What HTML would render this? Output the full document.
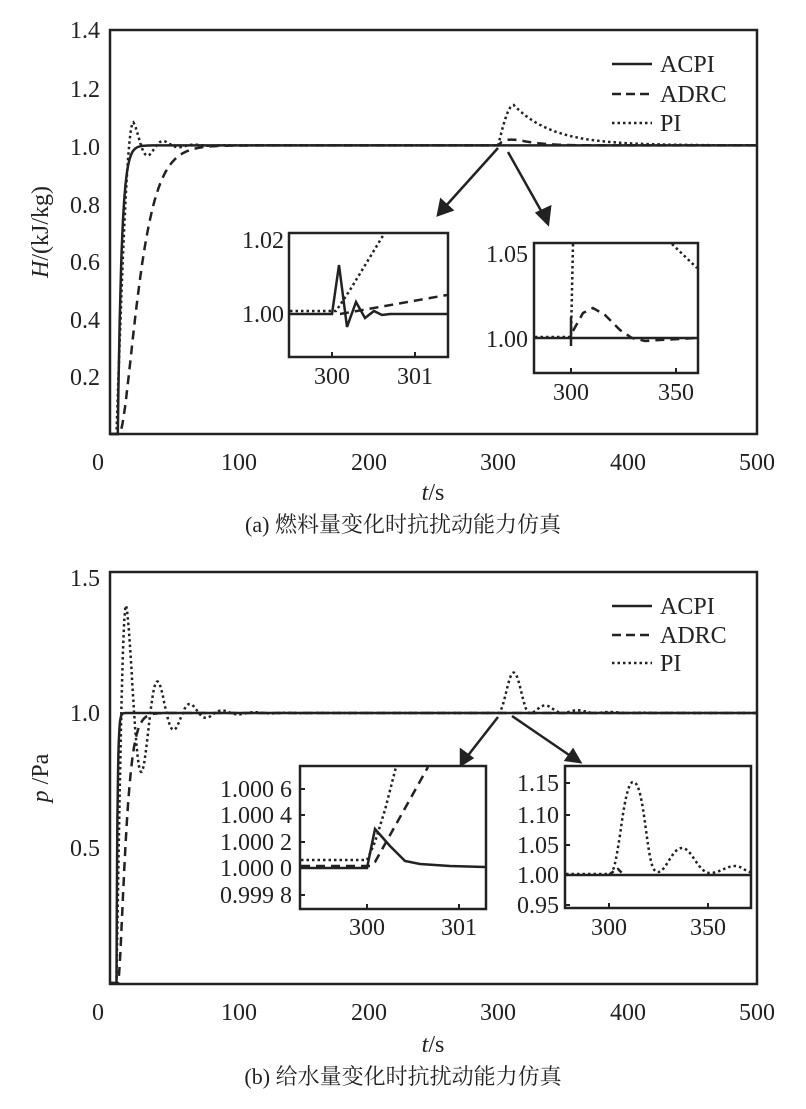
<!DOCTYPE html>
<html><head><meta charset="utf-8"><style>
body{margin:0;background:#fff}
svg text{font-family:"Liberation Serif","Noto Serif CJK SC",serif;fill:#222}
</style></head><body>
<svg id="s" width="806" height="1104" viewBox="0 0 806 1104" xmlns="http://www.w3.org/2000/svg">
<g fill="none" stroke="#222" stroke-width="2.5">
<rect x="110" y="30" width="647" height="404"/>
<rect x="110" y="572" width="647" height="412"/>
</g>
<g font-size="24" text-anchor="end">
<text x="100" y="38">1.4</text><text x="100" y="97">1.2</text><text x="100" y="155">1.0</text><text x="100" y="213">0.8</text><text x="100" y="270">0.6</text><text x="100" y="328">0.4</text><text x="100" y="385">0.2</text>
<text x="100" y="586">1.5</text><text x="100" y="721">1.0</text><text x="100" y="856">0.5</text>
</g>
<g font-size="24" text-anchor="middle">
<text x="98" y="470">0</text><text x="239" y="470">100</text><text x="369" y="470">200</text><text x="498" y="470">300</text><text x="628" y="470">400</text><text x="757" y="470">500</text>
<text x="98" y="1020">0</text><text x="239" y="1020">100</text><text x="369" y="1020">200</text><text x="498" y="1020">300</text><text x="628" y="1020">400</text><text x="757" y="1020">500</text>
<text x="433" y="500"><tspan font-style="italic">t</tspan>/s</text>
<text x="433" y="1052"><tspan font-style="italic">t</tspan>/s</text>
<text x="403" y="532" font-size="22">(a) 燃料量变化时抗扰动能力仿真</text>
<text x="403" y="1084" font-size="22">(b) 给水量变化时抗扰动能力仿真</text>
<text transform="translate(48,232) rotate(-90)"><tspan font-style="italic">H</tspan>/(kJ/kg)</text>
<text transform="translate(48,778) rotate(-90)"><tspan font-style="italic">p</tspan> /Pa</text>
</g>
<g font-size="24">
<text x="660" y="72">ACPI</text><text x="660" y="102">ADRC</text><text x="660" y="131">PI</text>
<text x="660" y="614">ACPI</text><text x="660" y="643">ADRC</text><text x="660" y="671">PI</text>
</g>
<g stroke="#222" stroke-width="2.5">
<line x1="612" y1="64" x2="652" y2="64"/><line x1="612" y1="94" x2="652" y2="94" stroke-dasharray="9,5"/><line x1="612" y1="123" x2="652" y2="123" stroke-dasharray="2.5,3"/>
<line x1="612" y1="606" x2="652" y2="606"/><line x1="612" y1="635" x2="652" y2="635" stroke-dasharray="9,5"/><line x1="612" y1="663" x2="652" y2="663" stroke-dasharray="2.5,3"/>
</g>
<g id="curves" fill="none" stroke="#222" stroke-width="2.5"></g>
<g stroke="#222" stroke-width="2.5" fill="#222">
<line x1="498" y1="148" x2="444" y2="208"/><polygon points="438,215 441,200 452,210"/>
<line x1="508" y1="152" x2="544" y2="216"/><polygon points="548,224 537,213 550,207"/>
<line x1="498" y1="717" x2="466" y2="758"/><polygon points="461,765 461,750 472,758"/>
<line x1="512" y1="716" x2="572" y2="757"/><polygon points="580,762 566,760 573,750"/>
</g>
<g fill="#fff" stroke="#222" stroke-width="2.5">
<rect x="289" y="233" width="159" height="124"/>
<rect x="534" y="243" width="164" height="130"/>
<rect x="300" y="766" width="186" height="143"/>
<rect x="565" y="766" width="186" height="142"/>
</g>
<g font-size="24" text-anchor="end">
<text x="284" y="248">1.02</text><text x="284" y="322">1.00</text>
<text x="528" y="262">1.05</text><text x="528" y="347">1.00</text>
<text x="292" y="797">1.000 6</text><text x="292" y="823">1.000 4</text><text x="292" y="850">1.000 2</text><text x="292" y="876">1.000 0</text><text x="292" y="903">0.999 8</text>
<text x="559" y="791">1.15</text><text x="559" y="823">1.10</text><text x="559" y="853">1.05</text><text x="559" y="883">1.00</text><text x="559" y="913">0.95</text>
</g>
<g font-size="24" text-anchor="middle">
<text x="332" y="384">300</text><text x="415" y="384">301</text>
<text x="571" y="400">300</text><text x="676" y="400">350</text>
<text x="367" y="935">300</text><text x="459" y="935">301</text>
<text x="609" y="935">300</text><text x="708" y="935">350</text>
</g>
<g fill="none" stroke="#222" stroke-width="2">
<line x1="332" y1="357" x2="332" y2="352"/><line x1="415" y1="357" x2="415" y2="352"/>
<line x1="571" y1="373" x2="571" y2="368"/><line x1="676" y1="373" x2="676" y2="368"/>
<line x1="367" y1="909" x2="367" y2="904"/><line x1="459" y1="909" x2="459" y2="904"/>
<line x1="609" y1="908" x2="609" y2="903"/><line x1="708" y1="908" x2="708" y2="903"/>
<line x1="300" y1="789" x2="305" y2="789"/><line x1="300" y1="815" x2="305" y2="815"/><line x1="300" y1="842" x2="305" y2="842"/><line x1="300" y1="895" x2="305" y2="895"/>
<line x1="565" y1="783" x2="570" y2="783"/><line x1="565" y1="815" x2="570" y2="815"/><line x1="565" y1="845" x2="570" y2="845"/><line x1="565" y1="905" x2="570" y2="905"/>
</g>
<g fill="none" stroke="#222" stroke-width="2.5">
<polyline points="290,314 332,314 339,265 347,327 356,302 365,318 374,311 382,315 390,314 447,314"/>
<polyline stroke-dasharray="9,6" points="340,314 447,295"/>
<polyline stroke-dasharray="2.5,3" points="290,311 336,311 350,290 384,234"/>
<polyline points="535,338 697,338"/><line x1="571" y1="317" x2="571" y2="346"/>
<polyline stroke-dasharray="2.5,3" points="535,337 571,337 573,244"/>
<polyline stroke-dasharray="2.5,3" points="672,244 697,268"/>
<polyline stroke-dasharray="9,6" points="573,331 583,313 593,308 605,315 620,330 632,338 645,341 660,340 697,338"/>
<polyline points="301,868 367,868 375,829 390,846 405,861 420,864 450,866 485,867"/>
<polyline stroke-dasharray="2.5,3" points="301,860 367,860 375,842 385,810 396,767"/>
<polyline stroke-dasharray="9,6" points="301,866 370,866 375,862 428,767"/>
<path stroke-dasharray="2.5,3" d="M566,874 L609,874 C614,874 616,860 620,835 C624,805 628,782 633,782 C639,782 642,800 646,830 C650,860 652,872 658,872 C666,872 672,848 682,848 C692,848 698,873 710,873 C720,873 726,866 735,866 C742,866 746,872 750,872"/>
<polyline stroke-dasharray="6,4" points="609,875 614,871 618,869 623,874"/>
<polyline points="566,875 750,875"/>
</g>
<script>
(function(){
var g=document.getElementById('curves');
function X(t){return 110+t*1.294;}
function path(f,Y,ds,t0,t1,dt){var d='';for(var t=t0;t<=t1+1e-9;t+=dt){var v=f(t);d+=(d?'L':'M')+X(t).toFixed(1)+','+Y(v).toFixed(1);}
var p=document.createElementNS('http://www.w3.org/2000/svg','path');p.setAttribute('d',d);if(ds)p.setAttribute('stroke-dasharray',ds);g.appendChild(p);}
function Ya(v){return 434-v*288.6;} function Yb(v){return 983-v*270;}
// top PI
path(function(t){if(t<295){var s=t-5;if(s<=0)return 0;if(s<13)return 1.08*Math.sin(Math.PI*s/26);return 1+0.08*Math.exp(-(s-13)/14)*Math.cos(2*Math.PI*(s-13)/24);}var s=t-300;if(s<=0)return 1;if(s<12)return 1+0.14*Math.sin(Math.PI*s/24);return 1+0.14*Math.exp(-(s-12)/30);},Ya,'2.5,3',0,500,0.5);
// top ADRC
path(function(t){if(t<300){var s=(t-7)/9;return s<=0?0:1-(1+s)*Math.exp(-s);}var s=t-300;return 1+(s>0?0.02*(s/10)*Math.exp(1-s/10):0);},Ya,'9,6',0,500,0.5);
// top ACPI
path(function(t){var s=(t-6)/3;return s<=0?0:1-Math.exp(-s);},Ya,null,0,500,0.5);
// bottom PI
path(function(t){if(t<290){var s=t-5;if(s<=0)return 0;if(s<7.4)return 1.4*Math.sin(Math.PI*s/14.8);return 1+0.4*Math.exp(-(s-7.4)/20)*Math.cos(2*Math.PI*(s-7.4)/25);}var s=t-300;if(s<=0)return 1;return (s<25?1+0.15*Math.pow(Math.sin(Math.PI*s/24),2):1+0.045*Math.exp(-(s-25)/25)*Math.pow(Math.sin(Math.PI*(s-25)/25),2));},Yb,'2.5,3',0,500,0.5);
path(function(t){var s=(t-6)/3.5;return s<=0?0:1-(1+s)*Math.exp(-s);},Yb,'9,6',0,500,0.5);
path(function(t){var s=(t-5)/0.8;return s<=0?0:1-Math.exp(-s);},Yb,null,0,500,0.25);
})();
</script>
</svg>
</body></html>
